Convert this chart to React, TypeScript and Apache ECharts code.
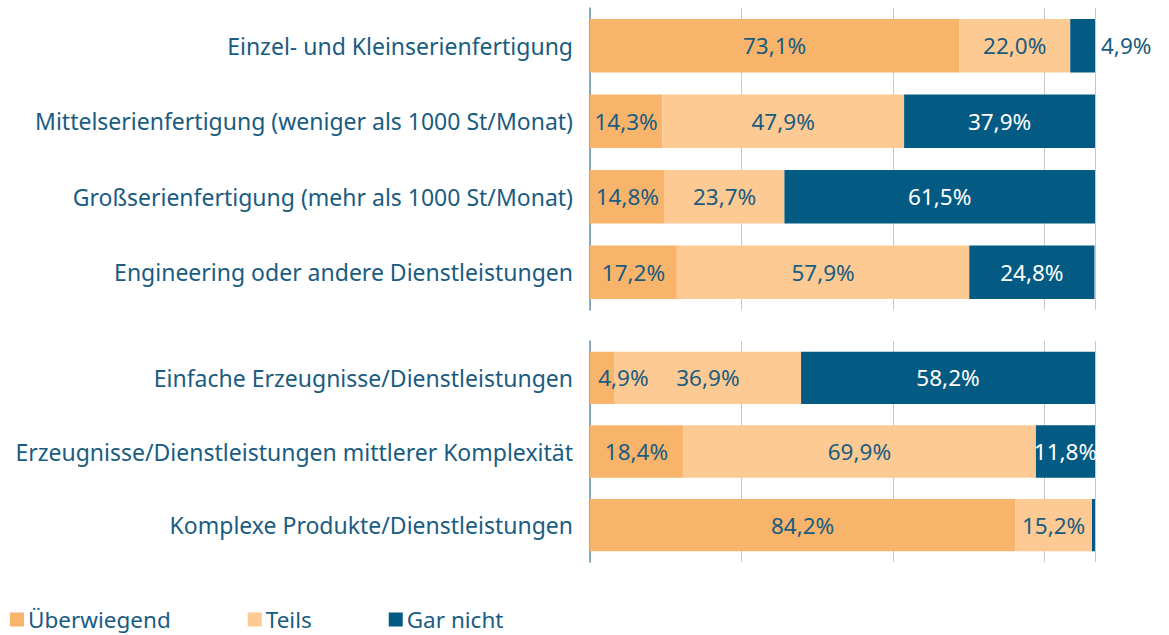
import React, { useEffect, useRef } from "react";
import * as echarts from "echarts";

const seriesNames = ["Überwiegend", "Teils", "Gar nicht"];
const colors = ["#F9B46B", "#FDCA93", "#035A82"];

const categoriesA = [
  "Einzel- und Kleinserienfertigung",
  "Mittelserienfertigung (weniger als 1000 St/Monat)",
  "Großserienfertigung (mehr als 1000 St/Monat)",
  "Engineering oder andere Dienstleistungen",
];
const ueberwiegendA = [73.1, 14.3, 14.8, 17.2];
const teilsA = [22.0, 47.9, 23.7, 57.9];
const garNichtA = [4.9, 37.9, 61.5, 24.8];

const categoriesB = [
  "Einfache Erzeugnisse/Dienstleistungen",
  "Erzeugnisse/Dienstleistungen mittlerer Komplexität",
  "Komplexe Produkte/Dienstleistungen",
];
const ueberwiegendB = [4.9, 18.4, 84.2];
const teilsB = [36.9, 69.9, 15.2];
const garNichtB = [58.2, 11.8, 0.6];

const FONT = "Noto Sans";
const FS = 22.5;
const TEXT_COLOR = "#1A5C80";

const fmt = (v: number) => v.toFixed(1).replace(".", ",") + "%";

export default function App() {
  const ref = useRef<HTMLDivElement>(null);
  useEffect(() => {
    if (!ref.current) return;
    const chart = echarts.init(ref.current, null, { renderer: "svg" });

    const xAxisBase = {
      type: "value",
      min: 0,
      max: 100,
      interval: 30,
      axisLabel: { show: false },
      axisTick: { show: false },
      axisLine: { show: false },
      splitLine: { show: true, lineStyle: { color: "#C8C8C8", width: 1 } },
    };
    const yAxisBase = {
      type: "category",
      inverse: true,
      axisTick: { show: false },
      axisLine: { show: true, lineStyle: { color: "#6A96B0", width: 1.5 } },
      axisLabel: {
        fontFamily: FONT,
        fontSize: 23,
        color: TEXT_COLOR,
        margin: 17,
      },
    };

    const baseLabel = {
      show: true,
      position: "inside",
      fontFamily: FONT,
      fontSize: FS,
      formatter: (p: any) => fmt(p.value),
    };

    const mk = (
      name: string,
      idx: number,
      data: any[],
      stack: string,
      axis: number,
      labelColor: string
    ) => ({
      name,
      type: "bar",
      stack,
      xAxisIndex: axis,
      yAxisIndex: axis,
      barWidth: "71%",
      itemStyle: { color: colors[idx] },
      label: { ...baseLabel, color: labelColor },
      data,
    });

    const garA = garNichtA.map((v, i) =>
      i === 0
        ? { value: v, label: { position: "right", color: TEXT_COLOR, distance: 6 } }
        : v
    );
    const uebB = ueberwiegendB.map((v, i) =>
      i === 0 ? { value: v, label: { offset: [21, 0] } } : v
    );
    const garB = garNichtB.map((v) =>
      v < 1 ? { value: v, label: { show: false } } : v
    );

    chart.setOption({
      animation: false,
      textStyle: { fontFamily: FONT },
      grid: [
        { left: 590, right: 74, top: 8, height: 302 },
        { left: 590, right: 74, top: 341, height: 221 },
      ],
      xAxis: [
        { ...xAxisBase, gridIndex: 0 },
        { ...xAxisBase, gridIndex: 1 },
      ],
      yAxis: [
        { ...yAxisBase, gridIndex: 0, data: categoriesA },
        { ...yAxisBase, gridIndex: 1, data: categoriesB },
      ],
      legend: {
        data: seriesNames,
        left: 10,
        top: 608,
        padding: 0,
        itemWidth: 14,
        itemHeight: 14,
        itemGap: 77,
        icon: "rect",
        textStyle: { fontFamily: FONT, fontSize: FS, color: TEXT_COLOR, padding: [0, 0, 0, -1] },
      },
      series: [
        mk(seriesNames[0], 0, ueberwiegendA, "a", 0, TEXT_COLOR),
        mk(seriesNames[1], 1, teilsA, "a", 0, TEXT_COLOR),
        mk(seriesNames[2], 2, garA, "a", 0, "#FFFFFF"),
        mk(seriesNames[0], 0, uebB, "b", 1, TEXT_COLOR),
        mk(seriesNames[1], 1, teilsB, "b", 1, TEXT_COLOR),
        mk(seriesNames[2], 2, garB, "b", 1, "#FFFFFF"),
      ],
    });
    return () => chart.dispose();
  }, []);
  return (
    <div
      ref={ref}
      style={{ position: "absolute", left: 0, top: 0, width: 1169, height: 635 }}
    />
  );
}
